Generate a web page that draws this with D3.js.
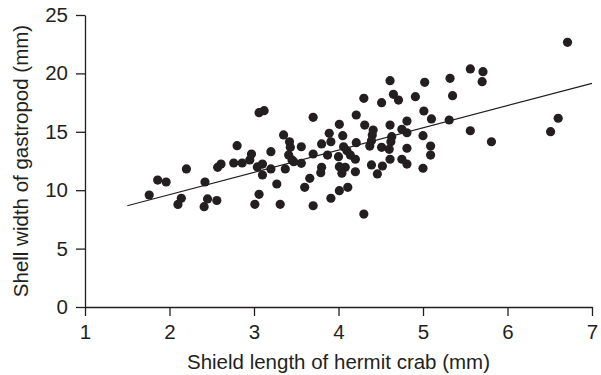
<!DOCTYPE html>
<html>
<head>
<meta charset="utf-8">
<script src="https://cdn.jsdelivr.net/npm/d3@7"></script>
<style>
  html, body { margin: 0; padding: 0; background: #fff; }
  svg text { font-family: "Liberation Sans", Arial, sans-serif; fill: #231f20; }
</style>
</head>
<body>
<svg id="chart" width="601" height="375"></svg>
<script>
// Shield length of hermit crab (mm)
const shieldLength = [
  1.76, 1.86, 1.96, 2.20, 2.14, 2.10, 2.42, 2.45, 2.41, 2.56,
  2.57, 2.61, 2.76, 2.80, 2.86, 3.06, 3.12, 2.97, 2.95, 3.04,
  3.10, 3.10, 3.06, 3.01, 3.70, 4.21, 4.01, 3.35, 3.89, 4.05,
  3.42, 3.91, 3.80, 3.56, 4.21, 3.43, 3.20, 4.06, 4.10, 4.14,
  3.70, 3.87, 4.00, 3.41, 3.45, 3.37, 3.47, 3.56, 3.20, 3.80,
  3.79, 4.01, 4.08, 4.04, 4.20, 3.66, 3.27, 3.60, 4.11, 4.01,
  3.91, 3.31, 3.70, 4.61, 5.02, 4.30, 4.51, 4.65, 4.71, 4.91,
  5.01, 5.10, 4.31, 4.61, 4.81, 4.41, 4.40, 4.75, 4.81, 4.63,
  4.62, 5.00, 4.37, 4.39, 4.51, 4.60, 4.81, 5.09, 5.09, 4.20,
  4.61, 4.75, 4.81, 4.39, 4.52, 4.46, 5.00, 4.30, 5.56, 5.71,
  5.70, 5.32, 5.35, 5.31, 5.56, 5.81, 6.71, 6.60, 6.51
];
// Shell width of gastropod (mm)
const shellWidth = [
  9.59, 10.87, 10.70, 11.82, 9.31, 8.78, 10.70, 9.25, 8.59, 9.12,
  11.96, 12.24, 12.33, 13.81, 12.33, 16.64, 16.81, 13.10, 12.59, 11.99,
  12.24, 11.30, 9.65, 8.79, 16.24, 16.44, 15.64, 14.73, 14.87, 14.67,
  14.15, 14.15, 13.96, 13.72, 14.07, 13.67, 13.30, 13.72, 13.38, 13.01,
  13.10, 13.01, 12.87, 13.01, 12.59, 11.82, 12.44, 12.30, 11.82, 11.96,
  11.50, 12.01, 11.96, 11.45, 11.58, 11.02, 10.53, 10.25, 10.25, 9.96,
  9.31, 8.79, 8.67, 19.38, 19.24, 17.87, 17.49, 18.21, 17.72, 18.01,
  16.78, 16.10, 15.58, 15.58, 15.92, 15.15, 14.73, 15.21, 14.92, 14.58,
  14.15, 14.67, 13.78, 14.24, 13.67, 13.50, 13.59, 13.78, 13.01, 12.65,
  12.65, 12.65, 12.24, 12.16, 12.07, 11.39, 11.88, 7.96, 20.38, 20.15,
  19.29, 19.58, 18.09, 16.01, 15.09, 14.15, 22.66, 16.16, 15.01
];
// Fitted regression line end points
const fitX = [1.5, 7.0];
const fitY = [8.67, 19.15];

const xTicks = [1, 2, 3, 4, 5, 6, 7];
const yTicks = [0, 5, 10, 15, 20, 25];

const ink = "#231f20";
const fontSize = "20.5px";
const svg = d3.select("#chart");

const x = d3.scaleLinear().domain([1, 7]).range([85, 592]);
const y = d3.scaleLinear().domain([0, 25]).range([307, 15]);

// Axes
const xAxis = svg.append("g")
  .attr("transform", `translate(0,${y(0)})`)
  .call(d3.axisBottom(x).tickValues(xTicks).tickFormat(d3.format("d"))
    .tickSize(9).tickSizeOuter(0).tickPadding(8));
const yAxis = svg.append("g")
  .attr("transform", `translate(${x(1)},0)`)
  .call(d3.axisLeft(y).tickValues(yTicks).tickFormat(d3.format("d"))
    .tickSize(9).tickSizeOuter(0).tickPadding(8));

[xAxis, yAxis].forEach(g => {
  g.selectAll("path, line").attr("stroke", ink).attr("stroke-width", 1.3);
  g.selectAll("text").style("font-size", fontSize).attr("fill", ink);
});

// Points
const pts = d3.zip(shieldLength, shellWidth);
svg.append("g")
  .selectAll("circle")
  .data(pts)
  .join("circle")
  .attr("cx", d => x(d[0]))
  .attr("cy", d => y(d[1]))
  .attr("r", 4.6)
  .attr("fill", ink);

// Regression line
svg.append("line")
  .attr("x1", x(fitX[0])).attr("y1", y(fitY[0]))
  .attr("x2", x(fitX[1])).attr("y2", y(fitY[1]))
  .attr("stroke", ink)
  .attr("stroke-width", 1.2);

// Axis titles
svg.append("text")
  .attr("x", (x(1) + x(7)) / 2)
  .attr("y", 369)
  .attr("text-anchor", "middle")
  .style("font-size", fontSize)
  .text("Shield length of hermit crab (mm)");

svg.append("text")
  .attr("transform", `translate(28,${(y(0) + y(25)) / 2}) rotate(-90)`)
  .attr("text-anchor", "middle")
  .style("font-size", fontSize)
  .text("Shell width of gastropod (mm)");
</script>
</body>
</html>
